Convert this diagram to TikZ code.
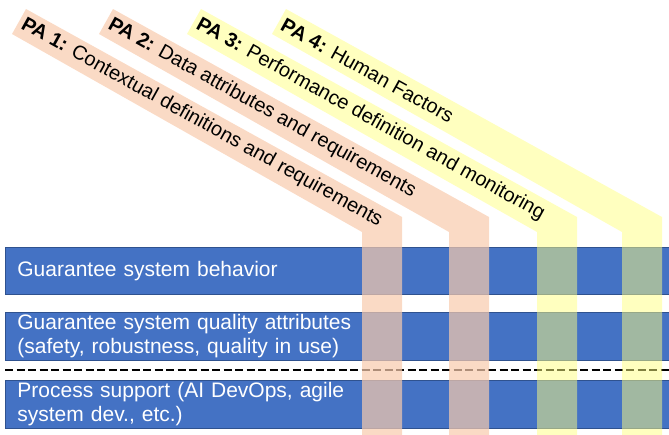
\documentclass[tikz,border=0pt]{standalone}
\usepackage{fontspec}
\setmainfont{Liberation Sans}
\usetikzlibrary{positioning}
\definecolor{barblue}{RGB}{68,114,196}
\definecolor{barline}{RGB}{47,82,143}
\definecolor{peach}{RGB}{248,203,173}
\definecolor{lemon}{RGB}{255,255,128}

\begin{document}
\begin{tikzpicture}[
    x=1pt, y=-1pt,
    bar/.style={draw=barline, fill=barblue, line width=0.8pt, minimum width=680pt, minimum height=47.5pt, text width=656pt, inner xsep=12pt, inner ysep=0pt, align=left, text=white, font=\fontsize{21}{24}\selectfont},
    peachband/.style={fill=peach, fill opacity=0.7},
    lemonband/.style={fill=lemon, fill opacity=0.5},
    palabel/.style={anchor=west, rotate=-29, inner sep=0pt, font=\fontsize{20}{24}\selectfont},
    sepline/.style={dash pattern=on 8pt off 3.5pt, line width=2.2pt}
]
\clip (0,0) rectangle (669,434);
\useasboundingbox (0,0) rectangle (669,434);

% Bars
\node[bar, anchor=north west] (behavior) at (5,246.5) {Guarantee system behavior};
\node[bar, below=17.5pt of behavior] (quality) {Guarantee system quality attributes\\(safety, robustness, quality in use)};
\node[bar, below=19.5pt of quality] (process) {Process support (AI DevOps, agile\\system dev., etc.)};

% Separator
\draw[sepline] ([yshift=-9pt]quality.south west) -- ([yshift=-9pt]quality.south east);

% Practice areas
\fill[peachband] (26,9) -- (402,217) -- (402,440) -- (362,440) -- (362,232) -- (12,34) -- cycle;
\fill[peachband] (113,9) -- (489,217) -- (489,440) -- (449,440) -- (449,232) -- (99,34) -- cycle;
\fill[lemonband] (201,9) -- (577,217) -- (577,440) -- (537,440) -- (537,232) -- (187,34) -- cycle;
\fill[lemonband] (286,9) -- (662,217) -- (662,440) -- (622,440) -- (622,232) -- (272,34) -- cycle;

% Labels
\node[palabel] (pa1) at (22.5,23.5) {\textbf{PA 1:} Contextual definitions and requirements};
\node[palabel] (pa2) at (109.5,23.5) {\textbf{PA 2:} Data attributes and requirements};
\node[palabel] (pa3) at (197.5,23.5) {\textbf{PA 3:} Performance definition and monitoring};
\node[palabel] (pa4) at (282.5,23.5) {\textbf{PA 4:} Human Factors};
\end{tikzpicture}
\end{document}
